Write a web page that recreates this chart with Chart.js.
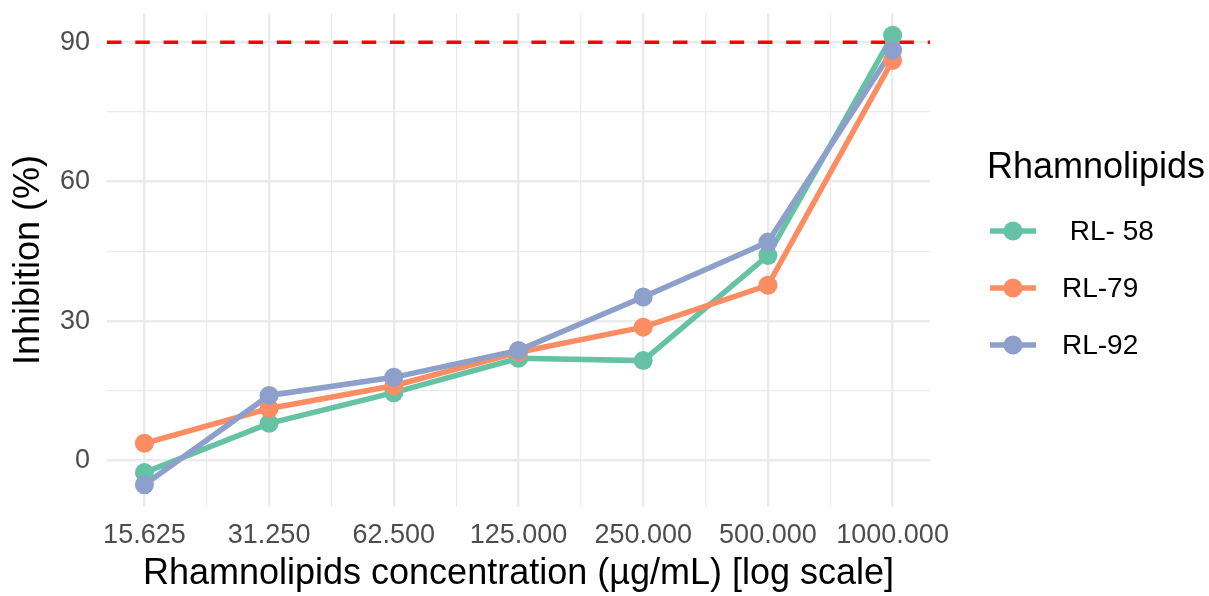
<!DOCTYPE html>
<html>
<head>
<meta charset="utf-8">
<script src="https://cdn.jsdelivr.net/npm/chart.js@4.4.1/dist/chart.umd.min.js"></script>
<style>
  body { margin: 0; background: #fff; }
  #wrap { width: 1209px; height: 596px; }
</style>
</head>
<body>
<div id="wrap"><canvas id="chart" width="1209" height="596"></canvas></div>
<script>
// данные
const concentrations = [15.625, 31.25, 62.5, 125, 250, 500, 1000];
const rl58 = [-2.6, 8.0, 14.6, 22.0, 21.5, 44.1, 91.5];
const rl79 = [3.7, 11.2, 16.1, 23.3, 28.7, 37.7, 86.1];
const rl92 = [-5.2, 14.0, 17.9, 23.7, 35.2, 47.0, 88.3];

const seriesNames = [' RL- 58', 'RL-79', 'RL-92'];
const seriesColors = ['#66C2A5', '#FC8D62', '#8DA0CB'];
const seriesValues = [rl58, rl79, rl92];

const xMajorTicks = concentrations;
const yMajorTicks = [0, 30, 60, 90];
const yMinorTicks = [15, 45, 75];
const thresholdValue = 90;

const legendTitle = 'Rhamnolipids';
const xTitle = 'Rhamnolipids concentration (µg/mL) [log scale]';
const yTitle = 'Inhibition (%)';

const FONT = '"Liberation Sans", Arial, sans-serif';
const GRID = '#EBEBEB';

// минорные деления по логарифмической оси - середины между основными
const xMinorTicks = [];
for (let i = 0; i < xMajorTicks.length - 1; i++) {
    xMinorTicks.push(Math.sqrt(xMajorTicks[i] * xMajorTicks[i + 1]));
}

// линии рисуются отдельно от точек, как в ggplot (сначала все линии, потом все точки)
const datasets = [];
seriesValues.forEach((vals, i) => {
    datasets.push({
        label: seriesNames[i],
        data: concentrations.map((c, j) => ({ x: c, y: vals[j] })),
        borderColor: seriesColors[i],
        borderWidth: 5.5,
        pointRadius: 0,
        pointHoverRadius: 0,
        fill: false,
        tension: 0,
        order: 10 + (seriesValues.length - i)
    });
});
seriesValues.forEach((vals, i) => {
    datasets.push({
        label: seriesNames[i] + ' pts',
        data: concentrations.map((c, j) => ({ x: c, y: vals[j] })),
        showLine: false,
        backgroundColor: seriesColors[i],
        borderColor: seriesColors[i],
        borderWidth: 0,
        pointRadius: 9.5,
        pointHoverRadius: 9.5,
        order: seriesValues.length - i
    });
});

// пунктирная линия 90%
const thresholdLine = {
    id: 'thresholdLine',
    beforeDatasetsDraw(chart) {
        const { ctx, chartArea, scales } = chart;
        const y = scales.y.getPixelForValue(thresholdValue);
        ctx.save();
        ctx.strokeStyle = '#FF0000';
        ctx.lineWidth = 3.5;
        ctx.setLineDash([14.5, 13.8]);
        ctx.beginPath();
        ctx.moveTo(chartArea.left, y);
        ctx.lineTo(chartArea.right, y);
        ctx.stroke();
        ctx.restore();
    }
};

// легенда справа в стиле ggplot
const ggLegend = {
    id: 'ggLegend',
    afterDraw(chart) {
        const { ctx, chartArea } = chart;
        const left = chartArea.right + 57;
        ctx.save();
        ctx.fillStyle = '#000';
        ctx.textBaseline = 'middle';
        ctx.textAlign = 'left';
        ctx.font = '36px ' + FONT;
        ctx.fillText(legendTitle, left, 168);
        ctx.font = '28px ' + FONT;
        seriesNames.forEach((name, i) => {
            const y = 231 + i * 57;
            ctx.strokeStyle = seriesColors[i];
            ctx.lineWidth = 5.5;
            ctx.beginPath();
            ctx.moveTo(left + 3, y);
            ctx.lineTo(left + 49, y);
            ctx.stroke();
            ctx.fillStyle = seriesColors[i];
            ctx.beginPath();
            ctx.arc(left + 26, y, 9.5, 0, Math.PI * 2);
            ctx.fill();
            ctx.fillStyle = '#000';
            ctx.fillText(name, left + 75, y + 1);
        });
        ctx.restore();
    }
};

function noEdgePadding(scale) {
    scale.paddingTop = 0;
    scale.paddingBottom = 0;
    scale.paddingLeft = 0;
    scale.paddingRight = 0;
}

new Chart(document.getElementById('chart'), {
    type: 'line',
    data: { datasets: datasets },
    options: {
        responsive: false,
        animation: false,
        events: [],
        layout: { padding: { left: 0, right: 279, top: 13, bottom: 0 } },
        plugins: {
            legend: { display: false },
            tooltip: { enabled: false }
        },
        scales: {
            x: {
                type: 'logarithmic',
                min: 15.625 / Math.pow(2, 0.3),
                max: 1000 * Math.pow(2, 0.3),
                border: { display: false },
                grid: {
                    color: GRID,
                    drawTicks: false,
                    lineWidth: c => (xMajorTicks.includes(c.tick.value) ? 2.4 : 1.2)
                },
                afterBuildTicks(scale) {
                    scale.ticks = xMajorTicks.concat(xMinorTicks)
                        .sort((a, b) => a - b)
                        .map(v => ({ value: v }));
                },
                afterFit(scale) {
                    scale.height = 89;
                    noEdgePadding(scale);
                },
                ticks: {
                    autoSkip: false,
                    maxRotation: 0,
                    padding: 12,
                    color: '#4D4D4D',
                    font: { family: FONT, size: 27 },
                    callback: v => (xMajorTicks.includes(v) ? v.toFixed(3) : '')
                },
                title: {
                    display: true,
                    text: xTitle,
                    color: '#000',
                    font: { family: FONT, size: 36 },
                    padding: { top: 0, bottom: 0 }
                }
            },
            y: {
                type: 'linear',
                min: -10,
                max: 96.3,
                border: { display: false },
                grid: {
                    color: GRID,
                    drawTicks: false,
                    lineWidth: c => (yMajorTicks.includes(c.tick.value) ? 2.4 : 1.2)
                },
                afterBuildTicks(scale) {
                    scale.ticks = yMajorTicks.concat(yMinorTicks)
                        .sort((a, b) => a - b)
                        .map(v => ({ value: v }));
                },
                afterFit(scale) {
                    scale.width = 107;
                    noEdgePadding(scale);
                },
                ticks: {
                    padding: 17,
                    color: '#4D4D4D',
                    font: { family: FONT, size: 27 },
                    callback: v => (yMajorTicks.includes(v) ? String(v) : '')
                },
                title: {
                    display: true,
                    text: yTitle,
                    color: '#000',
                    font: { family: FONT, size: 36 },
                    padding: { top: 7, bottom: 0 }
                }
            }
        }
    },
    plugins: [thresholdLine, ggLegend]
});
</script>
</body>
</html>
